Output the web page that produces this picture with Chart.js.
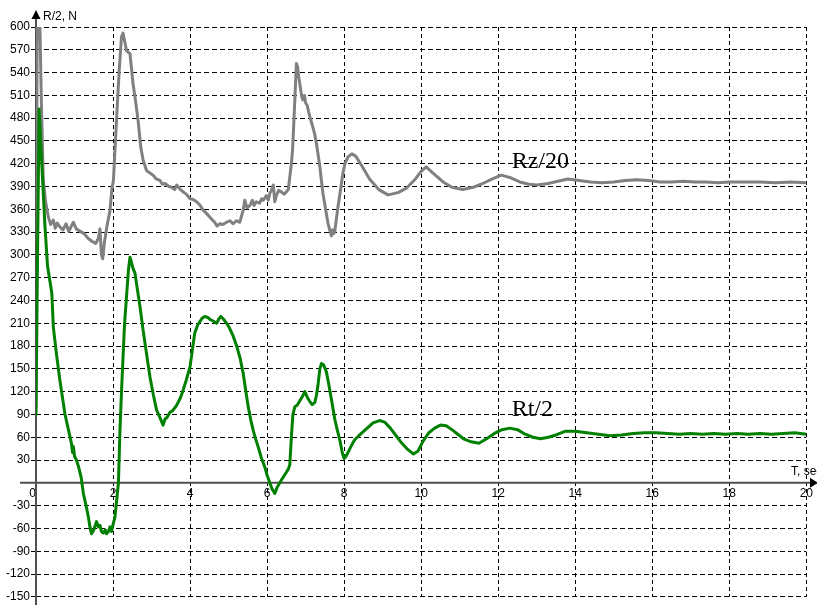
<!DOCTYPE html>
<html><head><meta charset="utf-8">
<script src="https://cdn.jsdelivr.net/npm/chart.js@4/dist/chart.umd.min.js"></script>
<style>html,body{margin:0;padding:0;background:#fff}canvas{display:block}</style>
</head><body>
<canvas id="c" width="817" height="605"></canvas>
<script>
// ---- data ----
const yAxisTitle = 'R/2, N';
const xAxisTitle = 'T, sec';
const rzName = 'Rz/20';
const rtName = 'Rt/2';
const timeRange = [0, 20];
const timeStep = 2;
const forceRange = [-150, 600];
const forceStep = 30;

// [time (s), value] pairs
const rzSeries = [[0,100],[0.03,605],[0.1,605],[0.14,500],[0.19,398],[0.25,370],[0.32,350],[0.38,340],[0.45,346],[0.5,335],[0.55,342],[0.62,337],[0.7,333],[0.78,341],[0.85,331],[0.92,338],[0.97,343],[1.05,334],[1.15,331],[1.25,328],[1.35,322],[1.45,318],[1.55,315],[1.62,322],[1.66,334],[1.7,300],[1.73,295],[1.78,318],[1.85,340],[1.92,358],[1.97,387],[2.01,398],[2.09,477],[2.16,543],[2.22,587],[2.26,592],[2.3,582],[2.35,569],[2.44,565],[2.52,525],[2.57,508],[2.65,477],[2.72,442],[2.78,425],[2.87,411],[2.95,408],[3.04,405],[3.12,400],[3.22,398],[3.28,393],[3.35,394],[3.45,390],[3.52,389],[3.6,386],[3.65,392],[3.75,386],[3.82,383],[3.9,380],[4.0,374],[4.08,373],[4.17,370],[4.25,366],[4.34,359],[4.42,355],[4.51,350],[4.58,346],[4.64,343],[4.7,338],[4.77,341],[4.85,340],[4.95,343],[5.03,345],[5.12,341],[5.2,345],[5.29,343],[5.33,350],[5.38,359],[5.42,372],[5.48,362],[5.55,365],[5.62,372],[5.66,365],[5.72,370],[5.8,368],[5.86,374],[5.9,372],[5.98,378],[6.03,372],[6.07,381],[6.12,386],[6.16,392],[6.2,370],[6.24,378],[6.3,385],[6.37,383],[6.44,380],[6.5,383],[6.55,386],[6.59,403],[6.63,420],[6.66,438],[6.69,470],[6.72,504],[6.76,552],[6.79,548],[6.82,535],[6.85,525],[6.9,508],[6.93,504],[6.97,510],[7.0,500],[7.04,497],[7.08,488],[7.11,482],[7.15,475],[7.19,468],[7.24,458],[7.28,447],[7.33,430],[7.37,416],[7.41,398],[7.45,381],[7.5,366],[7.54,354],[7.58,342],[7.63,332],[7.67,325],[7.7,333],[7.73,328],[7.76,332],[7.8,348],[7.84,363],[7.89,380],[7.93,394],[7.97,408],[8.02,420],[8.1,429],[8.2,433],[8.3,430],[8.45,418],[8.66,400],[8.9,386],[9.14,379],[9.4,382],[9.62,388],[9.85,400],[10.0,410],[10.13,416],[10.3,408],[10.57,396],[10.8,389],[11.08,386],[11.35,389],[11.6,394],[11.85,400],[12.08,405],[12.3,402],[12.56,396],[12.8,393],[13.0,392],[13.3,394],[13.55,397],[13.81,400],[14.1,398],[14.4,396],[14.7,395],[15.0,396],[15.3,398],[15.6,399],[15.9,398],[16.2,396],[16.5,396],[16.8,397],[17.1,396],[17.4,396],[17.7,395],[18.0,396],[18.4,396],[18.8,396],[19.2,395],[19.6,396],[20.0,395]];

const rtSeries = [[0,90],[0.04,300],[0.08,492],[0.15,420],[0.23,340],[0.3,285],[0.41,250],[0.45,205],[0.53,170],[0.62,135],[0.7,108],[0.75,91],[0.85,68],[0.92,52],[0.95,40],[0.97,48],[1.0,35],[1.05,30],[1.1,22],[1.17,8],[1.23,-14],[1.3,-30],[1.36,-45],[1.4,-58],[1.44,-67],[1.5,-62],[1.57,-51],[1.62,-58],[1.66,-56],[1.7,-64],[1.75,-66],[1.8,-62],[1.83,-67],[1.88,-64],[1.92,-58],[1.96,-64],[2.0,-55],[2.05,-45],[2.1,-20],[2.14,0],[2.18,69],[2.22,120],[2.26,166],[2.3,210],[2.35,245],[2.4,280],[2.44,297],[2.48,290],[2.52,282],[2.57,276],[2.61,262],[2.7,232],[2.78,201],[2.87,170],[2.96,139],[3.05,115],[3.13,96],[3.2,88],[3.25,82],[3.3,76],[3.35,84],[3.4,86],[3.48,93],[3.55,95],[3.65,102],[3.75,112],[3.82,122],[3.9,135],[4.0,153],[4.06,175],[4.12,197],[4.2,208],[4.25,212],[4.32,217],[4.38,219],[4.45,218],[4.52,215],[4.6,213],[4.69,210],[4.75,216],[4.8,219],[4.86,216],[4.95,210],[5.03,203],[5.12,193],[5.21,180],[5.3,164],[5.38,144],[5.45,120],[5.51,100],[5.58,82],[5.64,69],[5.7,58],[5.77,47],[5.85,33],[5.94,21],[6.0,10],[6.07,0],[6.13,-8],[6.2,-14],[6.26,-6],[6.33,0],[6.4,6],[6.5,14],[6.55,18],[6.59,24],[6.63,60],[6.67,90],[6.72,100],[6.78,102],[6.85,108],[6.92,114],[6.98,120],[7.05,112],[7.11,107],[7.17,103],[7.24,106],[7.28,115],[7.32,128],[7.37,150],[7.41,157],[7.47,155],[7.54,146],[7.6,130],[7.67,110],[7.72,95],[7.76,83],[7.82,70],[7.89,56],[7.95,40],[8.0,32],[8.05,35],[8.15,45],[8.22,52],[8.28,57],[8.38,62],[8.49,67],[8.6,72],[8.75,79],[8.92,82],[9.05,80],[9.2,72],[9.35,62],[9.5,52],[9.65,44],[9.8,38],[9.92,42],[10.05,55],[10.2,66],[10.35,72],[10.5,76],[10.65,75],[10.8,70],[10.95,64],[11.1,58],[11.3,54],[11.5,52],[11.7,58],[11.9,65],[12.1,70],[12.3,72],[12.5,70],[12.7,64],[12.9,60],[13.1,58],[13.3,60],[13.5,63],[13.75,68],[14.0,68],[14.3,66],[14.6,64],[14.9,62],[15.2,63],[15.5,65],[15.8,66],[16.1,66],[16.4,65],[16.7,64],[17.0,65],[17.3,64],[17.6,65],[17.9,64],[18.2,65],[18.5,64],[18.8,65],[19.1,64],[19.4,65],[19.7,66],[20.0,64]];

// ---- chart ----
Chart.defaults.font.family = "'Liberation Sans', Arial, sans-serif";
Chart.defaults.font.size = 12;
Chart.defaults.color = '#000';

const axesPlugin = {
  id: 'axesPlugin',
  beforeDatasetsDraw(chart) {
    const {ctx, scales: {x, y}} = chart;
    const x0 = x.getPixelForValue(0), y0 = y.getPixelForValue(0);
    ctx.save();
    ctx.strokeStyle = '#505050';
    ctx.lineWidth = 2;
    ctx.beginPath(); ctx.moveTo(20, y0); ctx.lineTo(chart.width - 6, y0); ctx.stroke();
    ctx.beginPath(); ctx.moveTo(x0, chart.height); ctx.lineTo(x0, 16); ctx.stroke();
    ctx.fillStyle = '#000';
    ctx.beginPath(); ctx.moveTo(x0, 10); ctx.lineTo(x0 - 4.5, 19); ctx.lineTo(x0 + 4.5, 19); ctx.closePath(); ctx.fill();
    ctx.beginPath(); ctx.moveTo(chart.width + 1, y0); ctx.lineTo(chart.width - 7, y0 - 5); ctx.lineTo(chart.width - 7, y0 + 5); ctx.closePath(); ctx.fill();
    ctx.restore();
  },
  afterDraw(chart) {
    const {ctx, scales: {x, y}} = chart;
    const x0 = x.getPixelForValue(0), y0 = y.getPixelForValue(0);
    ctx.save();
    ctx.fillStyle = '#000';
    ctx.font = "12px 'Liberation Sans', Arial, sans-serif";
    ctx.textBaseline = 'middle';
    ctx.textAlign = 'left';
    ctx.fillText(yAxisTitle, x0 + 7, 17);
    ctx.fillText(xAxisTitle, chart.width - 26, y0 - 11);
    ctx.font = "24px 'Liberation Serif', 'Times New Roman', serif";
    ctx.textBaseline = 'alphabetic';
    ctx.fillText(rzName, x.getPixelForValue(12.35), y.getPixelForValue(415));
    ctx.fillText(rtName, x.getPixelForValue(12.35), y.getPixelForValue(88));
    ctx.restore();
  }
};

new Chart(document.getElementById('c'), {
  type: 'line',
  data: {
    datasets: [
      {label: rzName, data: rzSeries.map(p => ({x: p[0], y: p[1]})), borderColor: '#808080', borderWidth: 3, pointRadius: 0, fill: false, tension: 0, order: 1, borderJoinStyle: 'round', borderCapStyle: 'round'},
      {label: rtName, data: rtSeries.map(p => ({x: p[0], y: p[1]})), borderColor: '#008000', borderWidth: 3, pointRadius: 0, fill: false, tension: 0, order: 0, borderJoinStyle: 'round', borderCapStyle: 'round'}
    ]
  },
  options: {
    responsive: false,
    animation: false,
    devicePixelRatio: 1,
    layout: {padding: {left: 0, right: 10, top: 27, bottom: 8}},
    plugins: {legend: {display: false}, tooltip: {enabled: false}},
    scales: {
      x: {
        type: 'linear',
        position: {y: 0},
        min: timeRange[0], max: timeRange[1],
        afterFit(s) { s.height = 0; },
        grid: {color: '#000', lineWidth: 1, drawTicks: false},
        border: {display: false, dash: [4, 3]},
        ticks: {stepSize: timeStep, autoSkip: false, maxRotation: 0, padding: 4, color: '#000',
          callback: v => v === 0 ? '0  ' : String(v)}
      },
      y: {
        type: 'linear',
        position: 'left',
        min: forceRange[0], max: forceRange[1],
        afterFit(s) { s.width = 36; },
        grid: {color: '#000', lineWidth: 1, tickLength: 5, tickColor: '#000', tickBorderDash: [1, 0]},
        border: {display: false, dash: [5, 3]},
        ticks: {stepSize: forceStep, autoSkip: false, padding: 1, color: '#000', callback: v => v === 0 ? '' : String(v)}
      }
    }
  },
  plugins: [axesPlugin]
});
</script>
</body></html>
